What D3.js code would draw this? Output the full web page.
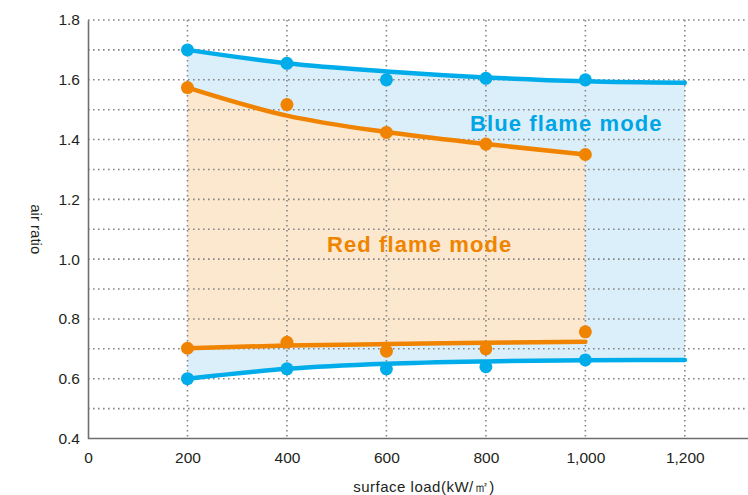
<!DOCTYPE html>
<html>
<head>
<meta charset="utf-8">
<script src="https://cdn.jsdelivr.net/npm/d3@7"></script>
<style>
  body { margin: 0; background: #fff; }
  svg { display: block; font-family: "Liberation Sans", Arial, sans-serif; }
</style>
</head>
<body>
<div id="chart"></div>
<script>
// measured points (surface load -> air ratio)
const loads = [200, 400, 600, 800, 1000];
const blueUpper = [1.70, 1.655, 1.60, 1.605, 1.60];
const blueLower = [0.60, 0.633, 0.633, 0.64, 0.663];
const redUpper = [1.574, 1.517, 1.424, 1.385, 1.35];
const redLower = [0.702, 0.722, 0.692, 0.70, 0.757];

// fitted curves
const blueFitLoads = [200, 400, 600, 800, 1000, 1200];
const blueUpperFit = [1.70, 1.655, 1.628, 1.608, 1.595, 1.59];
const blueLowerFit = [0.60, 0.633, 0.650, 0.658, 0.662, 0.663];
const redFitLoads = [200, 400, 600, 800, 1000];
const redUpperFit = [1.574, 1.48, 1.425, 1.385, 1.35];
const redLowerFit = [0.702, 0.711, 0.716, 0.720, 0.724];

const xTicks = [0, 200, 400, 600, 800, 1000, 1200];
const yTicks = [0.4, 0.6, 0.8, 1.0, 1.2, 1.4, 1.6, 1.8];
const yGrid = [0.5, 0.6, 0.7, 0.8, 0.9, 1.0, 1.1, 1.2, 1.3, 1.4, 1.5, 1.6, 1.7, 1.8];

const BLUE = '#00ace9', RED = '#f08300';
const BLUE_FILL = '#dbeffa', RED_FILL = '#fce7cf';

const width = 748, height = 495;
const margin = { top: 20, right: 0, bottom: 56, left: 88 };

const svg = d3.select('#chart').append('svg')
  .attr('width', width).attr('height', height);

const x = d3.scaleLinear().domain([0, 1327]).range([margin.left, width - margin.right]);
const y = d3.scaleLinear().domain([0.4, 1.8]).range([height - margin.bottom - 0.5, margin.top]);

function zip(xs, ys) { return xs.map((v, i) => [v, ys[i]]); }

// fills
const area = d3.area().x(d => x(d[0])).y0(d => y(d[1])).y1(d => y(d[2])).curve(d3.curveMonotoneX);
svg.append('path')
  .datum(blueFitLoads.map((v, i) => [v, blueLowerFit[i], blueUpperFit[i]]))
  .attr('fill', BLUE_FILL).attr('d', area);
svg.append('path')
  .datum(redFitLoads.map((v, i) => [v, redLowerFit[i], redUpperFit[i]]))
  .attr('fill', RED_FILL).attr('d', area);

// grid
const grid = svg.append('g').attr('stroke', '#858585').attr('stroke-width', 1.6)
  .attr('stroke-dasharray', '1.6,3.4');
grid.selectAll('.hg').data(yGrid).enter().append('line')
  .attr('x1', x(0)).attr('x2', width).attr('y1', d => y(d)).attr('y2', d => y(d));
grid.selectAll('.vg').data(xTicks.filter(d => d > 0)).enter().append('line')
  .attr('x1', d => x(d)).attr('x2', d => x(d)).attr('y1', y(1.8)).attr('y2', y(0.4));

// axes
const xAxis = svg.append('g')
  .attr('transform', `translate(0,${y(0.4)})`)
  .call(d3.axisBottom(x).tickValues(xTicks).tickSize(0).tickPadding(13)
    .tickFormat(d3.format(',')));
xAxis.select('.domain').attr('stroke', '#6e6e6e').attr('stroke-width', 1.6)
  .attr('d', `M${x(0)},0H${width}`);

const yAxis = svg.append('g')
  .attr('transform', `translate(${x(0)},0)`)
  .call(d3.axisLeft(y).tickValues(yTicks).tickSize(0).tickPadding(8)
    .tickFormat(d3.format('.1f')));
yAxis.select('.domain').attr('stroke', '#6e6e6e').attr('stroke-width', 1.6);

svg.selectAll('.tick text').attr('font-size', 15.5).attr('fill', '#231f20')
  .attr('font-family', '"Liberation Sans", Arial, sans-serif');

// fitted lines
const line = d3.line().x(d => x(d[0])).y(d => y(d[1])).curve(d3.curveMonotoneX);
const fits = [
  [zip(blueFitLoads, blueUpperFit), BLUE],
  [zip(blueFitLoads, blueLowerFit), BLUE],
  [zip(redFitLoads, redUpperFit), RED],
  [zip(redFitLoads, redLowerFit), RED]
];
fits.forEach(([d, c]) => {
  svg.append('path').datum(d).attr('d', line)
    .attr('fill', 'none').attr('stroke', c).attr('stroke-width', 4.5)
    .attr('stroke-linecap', 'round');
});

// points
const series = [[blueUpper, BLUE], [blueLower, BLUE], [redUpper, RED], [redLower, RED]];
series.forEach(([vals, c]) => {
  svg.append('g').selectAll('circle').data(zip(loads, vals)).enter().append('circle')
    .attr('cx', d => x(d[0])).attr('cy', d => y(d[1])).attr('r', 6.5).attr('fill', c);
});

// mode labels
svg.append('text').attr('x', 470).attr('y', 131)
  .attr('font-size', 22).attr('font-weight', 'bold').attr('letter-spacing', 1.1)
  .attr('fill', '#00a5e5').text('Blue flame mode');
svg.append('text').attr('x', 327).attr('y', 252)
  .attr('font-size', 22).attr('font-weight', 'bold').attr('letter-spacing', 1.1)
  .attr('fill', '#ef8400').text('Red flame mode');

// axis titles
svg.append('text')
  .attr('transform', `translate(31,${(y(1.8) + y(0.4)) / 2}) rotate(90)`)
  .attr('text-anchor', 'middle').attr('font-size', 15).attr('fill', '#231f20')
  .text('air ratio');
svg.append('text').attr('x', 424).attr('y', 492)
  .attr('text-anchor', 'middle').attr('font-size', 15).attr('letter-spacing', 0.5)
  .attr('fill', '#231f20')
  .text('surface load(kW/㎡)');
</script>
</body>
</html>
